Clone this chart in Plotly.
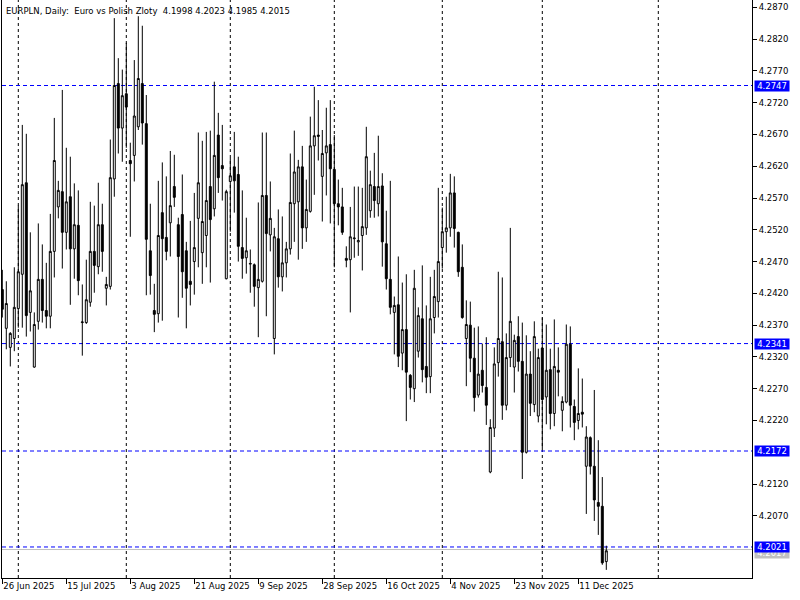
import pandas as pd
import plotly.graph_objects as go

title_text = "EURPLN, Daily:  Euro vs Polish Zloty  4.1998 4.2023 4.1985 4.2015"

# Daily bars (broker trades Sunday..Friday)
all_days = pd.date_range("2025-06-26", "2025-12-19", freq="D")
dates = [d for d in all_days if d.weekday() != 5]

opens = [4.2426, 4.2365, 4.2335, 4.2349, 4.2396, 4.2450, 4.2594, 4.2390, 4.2304, 4.2376,
         4.2442, 4.2393, 4.2384, 4.2486, 4.2556, 4.2580, 4.2516, 4.2572, 4.2490, 4.2527,
         4.2374, 4.2374, 4.2406, 4.2486, 4.2462, 4.2528, 4.2428, 4.2431, 4.2600, 4.2750,
         4.2680, 4.2734, 4.2629, 4.2637, 4.2682, 4.2750, 4.2687, 4.2487, 4.2393, 4.2388,
         4.2547, 4.2508, 4.2531, 4.2588, 4.2528, 4.2544, 4.2487, 4.2439, 4.2470, 4.2538,
         4.2484, 4.2511, 4.2588, 4.2553, 4.2669, 4.2621, 4.2443, 4.2596, 4.2619, 4.2607,
         4.2492, 4.2476, 4.2466, 4.2465, 4.2429, 4.2439, 4.2574, 4.2512, 4.2349, 4.2506,
         4.2446, 4.2468, 4.2490, 4.2561, 4.2564, 4.2619, 4.2523, 4.2549, 4.2652, 4.2669,
         4.2604, 4.2641, 4.2654, 4.2615, 4.2561, 4.2556, 4.2475, 4.2473, 4.2506, 4.2501,
         4.2511, 4.2523, 4.2550, 4.2588, 4.2561, 4.2589, 4.2498, 4.2442, 4.2390, 4.2402,
         4.2326, 4.2363, 4.2291, 4.2270, 4.2329, 4.2380, 4.2305, 4.2289, 4.2382, 4.2407,
         4.2492, 4.2517, 4.2523, 4.2578, 4.2516, 4.2461, 4.2349, 4.2370, 4.2318, 4.2260,
         4.2299, 4.2272, 4.2139, 4.2208, 4.2311, 4.2344, 4.2244, 4.2319, 4.2304, 4.2352,
         4.2313, 4.2170, 4.2293, 4.2245, 4.2227, 4.2334, 4.2257, 4.2300, 4.2231, 4.2299,
         4.2236, 4.2249, 4.2340, 4.2242, 4.2220, 4.2233, 4.2148, 4.2193, 4.2148, 4.2091,
         4.2085, 4.1998]
highs = [4.2457, 4.2439, 4.2359, 4.2461, 4.2558, 4.2685, 4.2671, 4.2516, 4.2390, 4.2530,
         4.2497, 4.2468, 4.2545, 4.2696, 4.2597, 4.2740, 4.2649, 4.2635, 4.2593, 4.2582,
         4.2434, 4.2473, 4.2564, 4.2558, 4.2594, 4.2561, 4.2446, 4.2662, 4.2853, 4.2790,
         4.2772, 4.2814, 4.2657, 4.2787, 4.2856, 4.2841, 4.2732, 4.2561, 4.2435, 4.2597,
         4.2626, 4.2604, 4.2644, 4.2638, 4.2539, 4.2607, 4.2501, 4.2534, 4.2578, 4.2673,
         4.2660, 4.2674, 4.2676, 4.2753, 4.2704, 4.2685, 4.2583, 4.2633, 4.2674, 4.2635,
         4.2582, 4.2539, 4.2489, 4.2467, 4.2563, 4.2673, 4.2673, 4.2596, 4.2523, 4.2552,
         4.2541, 4.2501, 4.2640, 4.2676, 4.2630, 4.2652, 4.2599, 4.2698, 4.2745, 4.2724,
         4.2677, 4.2712, 4.2724, 4.2669, 4.2599, 4.2586, 4.2494, 4.2556, 4.2588, 4.2588,
         4.2586, 4.2682, 4.2613, 4.2641, 4.2668, 4.2609, 4.2550, 4.2597, 4.2415, 4.2478,
         4.2437, 4.2450, 4.2293, 4.2457, 4.2398, 4.2464, 4.2401, 4.2446, 4.2457, 4.2586,
         4.2555, 4.2572, 4.2608, 4.2604, 4.2517, 4.2497, 4.2409, 4.2407, 4.2366, 4.2368,
         4.2341, 4.2351, 4.2222, 4.2335, 4.2454, 4.2445, 4.2357, 4.2523, 4.2355, 4.2384,
         4.2374, 4.2354, 4.2329, 4.2376, 4.2333, 4.2382, 4.2371, 4.2333, 4.2379, 4.2335,
         4.2258, 4.2371, 4.2368, 4.2253, 4.2302, 4.2286, 4.2211, 4.2195, 4.2268, 4.2189,
         4.2131, 4.2023]
lows = [4.2382, 4.2332, 4.2305, 4.2329, 4.2366, 4.2366, 4.2352, 4.2360, 4.2303, 4.2363,
        4.2374, 4.2365, 4.2365, 4.2445, 4.2538, 4.2459, 4.2489, 4.2402, 4.2443, 4.2417,
        4.2322, 4.2372, 4.2399, 4.2421, 4.2450, 4.2454, 4.2401, 4.2426, 4.2572, 4.2640,
        4.2627, 4.2649, 4.2509, 4.2596, 4.2677, 4.2654, 4.2417, 4.2418, 4.2359, 4.2374,
        4.2377, 4.2472, 4.2478, 4.2556, 4.2382, 4.2413, 4.2365, 4.2401, 4.2418, 4.2461,
        4.2435, 4.2461, 4.2437, 4.2541, 4.2578, 4.2566, 4.2442, 4.2517, 4.2547, 4.2470,
        4.2443, 4.2451, 4.2421, 4.2399, 4.2351, 4.2437, 4.2384, 4.2486, 4.2324, 4.2429,
        4.2423, 4.2445, 4.2481, 4.2501, 4.2473, 4.2490, 4.2501, 4.2547, 4.2575, 4.2629,
        4.2533, 4.2574, 4.2530, 4.2461, 4.2527, 4.2512, 4.2461, 4.2390, 4.2476, 4.2479,
        4.2456, 4.2512, 4.2539, 4.2539, 4.2541, 4.2462, 4.2426, 4.2387, 4.2324, 4.2304,
        4.2299, 4.2219, 4.2253, 4.2249, 4.2319, 4.2280, 4.2263, 4.2263, 4.2357, 4.2382,
        4.2459, 4.2484, 4.2509, 4.2492, 4.2446, 4.2380, 4.2274, 4.2296, 4.2234, 4.2256,
        4.2264, 4.2213, 4.2137, 4.2194, 4.2289, 4.2221, 4.2236, 4.2304, 4.2264, 4.2297,
        4.2128, 4.2168, 4.2227, 4.2233, 4.2217, 4.2175, 4.2214, 4.2206, 4.2211, 4.2258,
        4.2203, 4.2247, 4.2209, 4.2189, 4.2206, 4.2209, 4.2073, 4.2135, 4.2062, 4.2040,
        4.1993, 4.1985]
closes = [4.2395, 4.2404, 4.2357, 4.2398, 4.2454, 4.2591, 4.2385, 4.2424, 4.2371, 4.2442,
          4.2393, 4.2384, 4.2486, 4.2629, 4.2582, 4.2516, 4.2564, 4.2490, 4.2528, 4.2440,
          4.2375, 4.2410, 4.2486, 4.2464, 4.2528, 4.2486, 4.2434, 4.2602, 4.2747, 4.2680,
          4.2731, 4.2713, 4.2624, 4.2699, 4.2758, 4.2688, 4.2505, 4.2448, 4.2387, 4.2511,
          4.2506, 4.2486, 4.2558, 4.2571, 4.2478, 4.2454, 4.2428, 4.2434, 4.2492, 4.2594,
          4.2533, 4.2566, 4.2536, 4.2637, 4.2602, 4.2616, 4.2580, 4.2605, 4.2597, 4.2494,
          4.2475, 4.2487, 4.2467, 4.2431, 4.2442, 4.2574, 4.2514, 4.2538, 4.2509, 4.2446,
          4.2468, 4.2490, 4.2563, 4.2611, 4.2619, 4.2523, 4.2552, 4.2652, 4.2668, 4.2667,
          4.2640, 4.2652, 4.2616, 4.2561, 4.2556, 4.2516, 4.2472, 4.2509, 4.2507, 4.2503,
          4.2525, 4.2635, 4.2591, 4.2566, 4.2588, 4.2501, 4.2443, 4.2398, 4.2401, 4.2321,
          4.2363, 4.2296, 4.2272, 4.2428, 4.2385, 4.2300, 4.2288, 4.2380, 4.2415, 4.2470,
          4.2517, 4.2523, 4.2578, 4.2522, 4.2454, 4.2382, 4.2371, 4.2318, 4.2256, 4.2293,
          4.2275, 4.2244, 4.2209, 4.2309, 4.2349, 4.2244, 4.2319, 4.2376, 4.2346, 4.2313,
          4.2170, 4.2293, 4.2247, 4.2352, 4.2319, 4.2253, 4.2299, 4.2231, 4.2305, 4.2296,
          4.2250, 4.2340, 4.2244, 4.2217, 4.2231, 4.2230, 4.2194, 4.2148, 4.2095, 4.2085,
          4.1996, 4.2015]

label_dates = ["2025-06-26", "2025-07-15", "2025-08-03", "2025-08-21", "2025-09-09",
               "2025-09-28", "2025-10-16", "2025-11-04", "2025-11-23", "2025-12-11"]
month_starts = ["2025-07-01", "2025-08-01", "2025-09-01", "2025-10-01", "2025-11-02",
                "2025-12-01", "2026-01-01"]
level_prices = [4.2747, 4.2341, 4.2172, 4.2021]
bid_price = 4.2017
y_min, y_max = 4.19722, 4.28815
tick_prices = [4.2870, 4.2820, 4.2770, 4.2720, 4.2670, 4.2620, 4.2570, 4.2520, 4.2470,
               4.2420, 4.2370, 4.2320, 4.2270, 4.2220, 4.2120, 4.2070]

date_index = {d.strftime("%Y-%m-%d"): i for i, d in enumerate(dates)}
last_date = dates[-1]


def pos(s):
    if s in date_index:
        return date_index[s]
    # future bars are projected one calendar day apart
    return len(dates) - 1 + (pd.Timestamp(s) - last_date).days


xpos = list(range(len(dates)))
FONT = "DejaVu Sans"
FS = 8.5

fig = go.Figure()
fig.add_trace(go.Candlestick(
    x=xpos, open=opens, high=highs, low=lows, close=closes,
    increasing=dict(line=dict(color="black", width=1), fillcolor="white"),
    decreasing=dict(line=dict(color="black", width=1), fillcolor="black"),
    whiskerwidth=0, showlegend=False, hoverinfo="skip",
))

shapes = []
for m in month_starts:
    p = pos(m)
    shapes.append(dict(type="line", xref="x", yref="paper", x0=p, x1=p, y0=0, y1=1,
                       line=dict(color="black", width=1, dash="3px,3px"), layer="below"))
shapes.append(dict(type="line", xref="paper", yref="y", x0=0, x1=1, y0=bid_price, y1=bid_price,
                   line=dict(color="#C0C0C0", width=1), layer="below"))
for lv in level_prices:
    shapes.append(dict(type="line", xref="paper", yref="y", x0=0, x1=1, y0=lv, y1=lv,
                       line=dict(color="#0000FF", width=1, dash="4px,3px"), layer="below"))

annotations = [dict(xref="paper", yref="paper", x=0, y=1, xanchor="left", yanchor="top",
                    xshift=2, yshift=-4, text=title_text, showarrow=False,
                    font=dict(family=FONT, size=FS, color="black"))]
annotations.append(dict(xref="paper", yref="y", x=1, y=bid_price, xanchor="left", yanchor="middle",
                        xshift=2, yshift=-3, text=f"{bid_price:.4f}", showarrow=False, width=34, height=10,
                        bgcolor="#C0C0C0", borderpad=0, font=dict(family=FONT, size=FS, color="white")))
for lv in level_prices:
    annotations.append(dict(xref="paper", yref="y", x=1, y=lv, xanchor="left", yanchor="middle",
                            xshift=2, text=f"{lv:.4f}", showarrow=False, width=34, height=10,
                            bgcolor="#0000FF", borderpad=0,
                            font=dict(family=FONT, size=FS, color="white")))

tickvals_x = [pos(d) for d in label_dates]
ticktext_x = [f"{pd.Timestamp(d).day} {pd.Timestamp(d).strftime('%b %Y')}" for d in label_dates]

fig.update_layout(
    width=800, height=600,
    margin=dict(l=2, r=48, t=0, b=22),
    paper_bgcolor="white", plot_bgcolor="white",
    shapes=shapes, annotations=annotations,
    font=dict(family=FONT, size=FS, color="black"),
    xaxis=dict(range=[-0.075, 187.425], showgrid=False, zeroline=False,
               rangeslider=dict(visible=False),
               tickvals=tickvals_x, ticktext=ticktext_x, ticks="outside", ticklen=5,
               tickcolor="black", ticklabelposition="outside right", tickangle=0,
               showline=True, linecolor="black", linewidth=1,
               tickfont=dict(family=FONT, size=FS, color="black")),
    yaxis=dict(range=[y_min, y_max], side="right", showgrid=False, zeroline=False,
               tickvals=tick_prices, ticktext=[f"{t:.4f}" for t in tick_prices],
               ticks="outside", ticklen=4, tickcolor="black",
               showline=True, linecolor="black", linewidth=1, mirror=True,
               tickfont=dict(family=FONT, size=FS, color="black")),
)

fig.write_html("out.html", config={"displayModeBar": False},
               post_script="document.body.style.margin='0';")
